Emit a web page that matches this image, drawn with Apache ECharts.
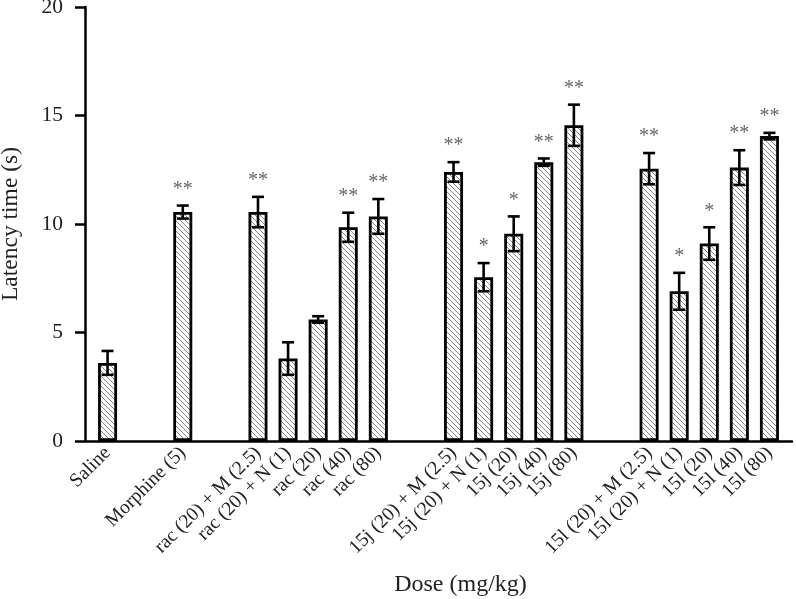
<!DOCTYPE html>
<html>
<head>
<meta charset="utf-8">
<script src="https://cdn.jsdelivr.net/npm/echarts@6/dist/echarts.min.js"></script>
<style>
html,body{margin:0;padding:0;background:#fff;}
#chart{width:796px;height:599px;}
</style>
</head>
<body>
<div id="chart"></div>
<script>
const categories = ['Saline','Morphine (5)','rac (20) + M (2.5)','rac (20) + N (1)','rac (20)','rac (40)','rac (80)','15j (20) + M (2.5)','15j (20) + N (1)','15j (20)','15j (40)','15j (80)','15l (20) + M (2.5)','15l (20) + N (1)','15l (20)','15l (40)','15l (80)'];
const means = [3.6, 10.55, 10.55, 3.8, 5.6, 9.85, 10.35, 12.4, 7.55, 9.55, 12.85, 14.55, 12.55, 6.9, 9.1, 12.6, 14.05];
const errors = [0.55, 0.3, 0.7, 0.75, 0.15, 0.67, 0.8, 0.45, 0.65, 0.8, 0.17, 0.95, 0.72, 0.85, 0.75, 0.8, 0.15];
const marks = ['', '**', '**', '', '', '**', '**', '**', '*', '*', '**', '**', '**', '*', '*', '**', '**'];
const groupSizes = [1, 1, 5, 5, 5];
const yTicks = [0, 5, 10, 15, 20];

// build slot layout (half-width slots, gaps between groups)
const slots = [];
let pos = 1;
groupSizes.forEach(n => {
  for (let i = 0; i < n; i++) { slots.push(pos); pos += 2; }
  pos += 3;
});
const nSlots = slots[slots.length - 1] + 2;
const axisCats = new Array(nSlots).fill('');
slots.forEach((s, i) => { axisCats[s] = categories[i]; });

// hatch pattern
const pc = document.createElement('canvas');
const S = 5;
pc.width = S; pc.height = S;
const ctx = pc.getContext('2d');
ctx.fillStyle = '#fff';
ctx.fillRect(0, 0, S, S);
ctx.strokeStyle = '#808080';
ctx.lineWidth = 0.95;
for (const k of [-S, 0, S]) {
  ctx.beginPath();
  ctx.moveTo(k, 0);
  ctx.lineTo(k + S, S);
  ctx.stroke();
}

const FONT = '"Liberation Serif", "Times New Roman", serif';

const chart = echarts.init(document.getElementById('chart'));
chart.setOption({
  animation: false,
  backgroundColor: '#fff',
  grid: { left: 85, right: 4, top: 7, bottom: 158, outerBoundsMode: 'none', containLabel: false },
  xAxis: {
    type: 'category',
    data: axisCats,
    boundaryGap: true,
    axisLine: { lineStyle: { color: '#000', width: 2.5 } },
    axisTick: { show: false },
    axisLabel: {
      interval: 0, rotate: 45, margin: 9,
      fontFamily: FONT, fontSize: 19.5, color: '#222'
    },
    name: 'Dose (mg/kg)',
    nameLocation: 'middle',
    nameGap: 132,
    nameTextStyle: { fontFamily: FONT, fontSize: 24, color: '#222', padding: [0, 0, 0, 44] }
  },
  yAxis: {
    type: 'value',
    min: yTicks[0], max: yTicks[yTicks.length - 1], interval: 5,
    splitLine: { show: false },
    axisLine: { show: true, lineStyle: { color: '#000', width: 2.5 } },
    axisTick: { show: true, length: 10, lineStyle: { color: '#000', width: 2.5 } },
    axisLabel: { fontFamily: FONT, fontSize: 21.5, color: '#222', margin: 22 },
    name: 'Latency time (s)',
    nameLocation: 'middle',
    nameGap: 62,
    nameTextStyle: { fontFamily: FONT, fontSize: 23.5, color: '#222' }
  },
  series: [
    {
      type: 'bar',
      barWidth: 19,
      data: slots.map((s, i) => [s, means[i]]),
      itemStyle: {
        color: { image: pc, repeat: 'repeat' },
        borderColor: '#000',
        borderWidth: 2.8
      },
      z: 2
    },
    {
      type: 'custom',
      data: slots.map((s, i) => [s, means[i], errors[i]]),
      z: 5,
      renderItem: function (params, api) {
        const x = api.value(0), m = api.value(1), e = api.value(2);
        const top = api.coord([x, m + e]);
        const bot = api.coord([x, m - e]);
        const hw = 6;
        const st = { stroke: '#000', lineWidth: 2.6 };
        const children = [
          { type: 'line', shape: { x1: top[0], y1: top[1], x2: bot[0], y2: bot[1] }, style: st },
          { type: 'line', shape: { x1: top[0] - hw, y1: top[1], x2: top[0] + hw, y2: top[1] }, style: st },
          { type: 'line', shape: { x1: bot[0] - hw, y1: bot[1], x2: bot[0] + hw, y2: bot[1] }, style: st }
        ];
        const mk = marks[params.dataIndex];
        if (mk) {
          children.push({
            type: 'text',
            style: {
              text: mk, x: top[0], y: top[1] - 6,
              align: 'center', verticalAlign: 'bottom',
              font: '20px ' + FONT, fill: '#666'
            }
          });
        }
        return { type: 'group', children: children };
      }
    }
  ]
});
</script>
</body>
</html>
